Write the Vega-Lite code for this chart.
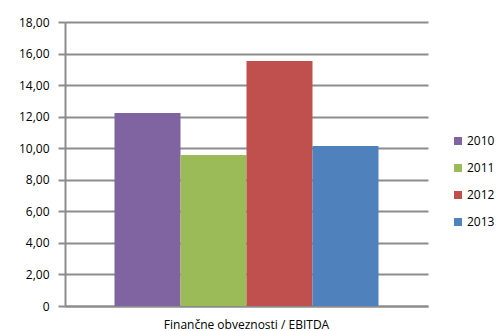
{
  "$schema": "https://vega.github.io/schema/vega-lite/v6.json",
  "width": 363,
  "height": 284,
  "autosize": {"type": "none"},
  "padding": {"left": 65, "top": 22, "right": 73, "bottom": 25},
  "background": "white",
  "data": {
    "values": [
      {"kategorija": "Finančne obveznosti / EBITDA", "leto": "2010", "vrednost": 12.23},
      {"kategorija": "Finančne obveznosti / EBITDA", "leto": "2011", "vrednost": 9.57},
      {"kategorija": "Finančne obveznosti / EBITDA", "leto": "2012", "vrednost": 15.53},
      {"kategorija": "Finančne obveznosti / EBITDA", "leto": "2013", "vrednost": 10.14}
    ]
  },
  "mark": {"type": "bar"},
  "encoding": {
    "x": {
      "field": "kategorija",
      "type": "nominal",
      "scale": {"paddingInner": 0, "paddingOuter": 0.1875},
      "axis": {
        "title": null,
        "labelAngle": 0,
        "ticks": false,
        "tickSize": 0,
        "labelPadding": 13,
        "labelFont": "Open Sans",
        "labelFontSize": 12,
        "labelColor": "#000000",
        "domainColor": "#8c8c8c",
        "domainWidth": 2,
        "grid": false
      }
    },
    "xOffset": {
      "field": "leto",
      "type": "nominal",
      "scale": {"paddingInner": 0, "paddingOuter": 0}
    },
    "y": {
      "field": "vrednost",
      "type": "quantitative",
      "scale": {"domain": [0, 18], "nice": false},
      "axis": {
        "title": null,
        "values": [0, 2, 4, 6, 8, 10, 12, 14, 16, 18],
        "labelExpr": "datum.value == 0 ? '0' : replace(format(datum.value, '.2f'), '.', ',')",
        "labelFont": "Open Sans",
        "labelFontSize": 12,
        "labelColor": "#000000",
        "labelPadding": 9,
        "tickSize": 7,
        "tickColor": "#8c8c8c",
        "tickWidth": 2,
        "domainColor": "#8c8c8c",
        "domainWidth": 2,
        "grid": true,
        "gridColor": "#8c8c8c",
        "gridWidth": 2
      }
    },
    "color": {
      "field": "leto",
      "type": "nominal",
      "scale": {
        "domain": ["2010", "2011", "2012", "2013"],
        "range": ["#8064A2", "#9BBB59", "#C0504D", "#4F81BD"]
      },
      "legend": {
        "title": null,
        "orient": "none",
        "legendX": 387,
        "legendY": 113,
        "symbolType": "square",
        "symbolSize": 64,
        "symbolStrokeWidth": 0,
        "labelFont": "Open Sans",
        "labelFontSize": 12,
        "labelColor": "#000000",
        "labelOffset": 3,
        "rowPadding": 15,
        "padding": 0
      }
    }
  },
  "config": {
    "view": {"stroke": null}
  }
}
